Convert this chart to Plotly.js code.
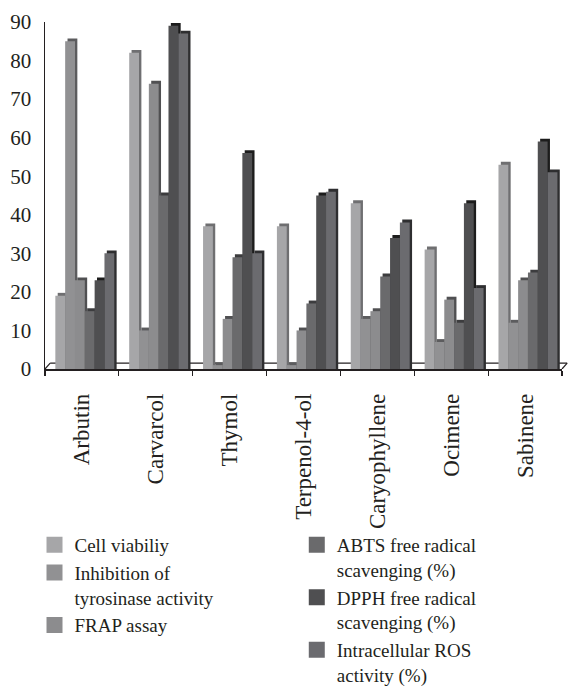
<!DOCTYPE html>
<html>
<head>
<meta charset="utf-8">
<script src="https://cdn.plot.ly/plotly-3.0.1.min.js"></script>
<style>
html,body{margin:0;padding:0;background:#fff;}
#chart{width:571px;height:686px;}
</style>
</head>
<body>
<div id="chart"></div>
<script>
// Data
var categories = ["Arbutin", "Carvarcol", "Thymol", "Terpenol-4-ol", "Caryophyllene", "Ocimene", "Sabinene"];
var seriesNames = ["Cell viabiliy", "Inhibition of<br>tyrosinase activity", "FRAP assay",
                   "ABTS free radical<br>scavenging (%)", "DPPH free radical<br>scavenging (%)", "Intracellular ROS<br>activity (%)"];
var cellViability = [19, 82, 37, 37, 43, 31, 53];
var tyrosinase    = [85, 10, 1, 1, 13, 7, 12];
var frap          = [23, 74, 13, 10, 15, 18, 23];
var abts          = [15, 45, 29, 17, 24, 12, 25];
var dpph          = [23, 89, 56, 45, 34, 43, 59];
var ros           = [30, 87, 30, 46, 38, 21, 51];
var yTicks = [0, 10, 20, 30, 40, 50, 60, 70, 80, 90];

var allSeries = [cellViability, tyrosinase, frap, abts, dpph, ros];
var colors = ["#a6a6a8", "#919193", "#8c8c8e", "#6a6a6c", "#4f4f51", "#6b6b6f"];
var sideColors = ["#6f6f71", "#5c5c5e", "#505052", "#3c3c3e", "#1c1c1c", "#2e2e30"];

var font = "Liberation Serif, Times New Roman, serif";
var barW = 0.133, startOff = -0.36, depthX = 0.032, depthY = 0.75;

var traces = [];
allSeries.forEach(function(vals, i) {
  // side/top face (3D look)
  traces.push({
    type: "bar", x: categories, y: vals.map(function(v){ return v + depthY; }),
    offset: startOff + i * barW + depthX, width: barW,
    marker: {color: sideColors[i], line: {width: 0}},
    showlegend: false, hoverinfo: "skip"
  });
  // front face
  traces.push({
    type: "bar", x: categories, y: vals, name: seriesNames[i],
    offset: startOff + i * barW, width: barW,
    marker: {color: colors[i], line: {width: 0}},
    showlegend: false
  });
});
// legend entries
allSeries.forEach(function(vals, i) {
  traces.push({
    type: "scatter", mode: "markers", x: [null], y: [null], name: seriesNames[i],
    marker: {symbol: "square", size: 16, color: colors[i]},
    legend: i < 3 ? "legend" : "legend2", hoverinfo: "skip"
  });
});

var layout = {
  width: 571, height: 686,
  margin: {l: 45, r: 9, t: 22, b: 317},
  paper_bgcolor: "#fff", plot_bgcolor: "#fff",
  barmode: "overlay",
  font: {family: font, size: 19, color: "#231f20"},
  xaxis: {
    type: "category", range: [-0.5, 6.5], automargin: false,
    showline: true, linecolor: "#231f20", linewidth: 1.5,
    ticks: "outside", tickson: "boundaries", ticklen: 5, tickcolor: "#231f20", tickwidth: 1.2,
    tickangle: -90, tickfont: {family: font, size: 23, color: "#231f20"},
    ticklabelstandoff: 14,
    showgrid: false, zeroline: false, fixedrange: true
  },
  yaxis: {
    range: [0, 90], tickvals: yTicks, ticktext: yTicks.map(String), automargin: false,
    showline: true, linecolor: "#231f20", linewidth: 1.5,
    ticks: "", showgrid: false, zeroline: false,
    tickfont: {family: font, size: 21, color: "#231f20"},
    ticklabelstandoff: 8, fixedrange: true
  },
  shapes: [
    {type: "line", xref: "paper", yref: "y", x0: 0.01, x1: 1.01, y0: 1.5, y1: 1.5,
     line: {color: "#231f20", width: 1.2}, layer: "below"},
    {type: "line", xref: "paper", yref: "y", x0: 0, x1: 0.01, y0: 0, y1: 1.5,
     line: {color: "#231f20", width: 1.2}, layer: "below"},
    {type: "line", xref: "paper", yref: "y", x0: 1.0, x1: 1.01, y0: 0, y1: 1.5,
     line: {color: "#231f20", width: 1.2}, layer: "below"}
  ],
  legend: {
    xref: "paper", yref: "container",
    x: -0.0203, xanchor: "left", y: 0.2332, yanchor: "top", valign: "top",
    font: {family: font, size: 19, color: "#231f20"},
    bgcolor: "rgba(0,0,0,0)", borderwidth: 0, tracegroupgap: 0, itemclick: false
  },
  legend2: {
    xref: "paper", yref: "container",
    x: 0.487, xanchor: "left", y: 0.2332, yanchor: "top", valign: "top",
    font: {family: font, size: 19, color: "#231f20"},
    bgcolor: "rgba(0,0,0,0)", borderwidth: 0, tracegroupgap: 0, itemclick: false
  }
};

Plotly.newPlot("chart", traces, layout, {displayModeBar: false, staticPlot: true});
</script>
</body>
</html>
